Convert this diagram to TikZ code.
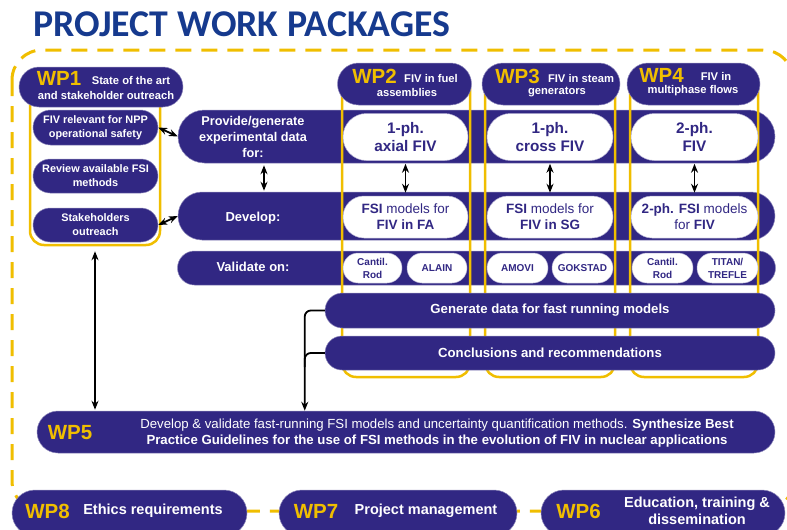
\documentclass[tikz,border=0pt]{standalone}
\usepackage{fontspec}
\setmainfont{Liberation Sans}
\newfontfamily\titlefont{Carlito}
\usetikzlibrary{arrows.meta, calc}

\definecolor{wpnavy}{RGB}{49,39,131}
\definecolor{wptitle}{RGB}{22,58,142}
\definecolor{wpgold}{RGB}{240,190,0}
\newcommand{\sz}[2]{\fontsize{#1}{#2}\selectfont}

\begin{document}
\begin{tikzpicture}[x=1pt, y=-1pt,
    nbox/.style 2 args={rectangle, inner sep=0pt, minimum width=#1pt, minimum height=#2pt,
      rounded corners=0.5*#2pt, fill=wpnavy, draw=wpnavy!55!white, line width=0.5pt,
      text=white, align=center, font=\bfseries\sz{13.2}{16}},
    wbox/.style 2 args={rectangle, inner sep=0pt, minimum width=#1pt, minimum height=#2pt,
      rounded corners=0.5*#2pt, fill=white, draw=wpnavy!35!white, line width=0.5pt,
      text=wpnavy, align=center},
    wpframe/.style 2 args={rectangle, inner sep=0pt, minimum width=#1pt, minimum height=#2pt,
      rounded corners=14pt, draw=wpgold, line width=2.5pt},
    wpnum/.style={inner sep=0pt, text=wpgold, font=\bfseries\sz{20.5}{20}},
    hdr/.style={inner sep=0pt, text=white, font=\bfseries\sz{11.2}{13}},
    lbl/.style={inner sep=0pt, text=white, align=center, font=\bfseries\sz{13}{16}},
    arr/.style={line width=1.8pt, -{Stealth[length=9pt, width=7pt]}},
    dbl/.style={line width=1.8pt, {Stealth[length=9pt, width=7pt]}-{Stealth[length=9pt, width=7pt]}},
  ]
  \useasboundingbox (0,0) rectangle (787,530);

  \node[anchor=base west, inner sep=0pt, text=wptitle, font=\titlefont\bfseries\sz{37.8}{38}]
    (title) at (33,36) {PROJECT WORK PACKAGES};
  \draw[wpgold, line width=3pt, dash pattern=on 16pt off 10pt, rounded corners=30pt]
    (12,50) rectangle (793,511);

  \node[nbox={597}{53}] (provide) at (476.5,136.5) {};
  \node[nbox={597}{48}] (develop) at (476.5,216) {};
  \node[nbox={598}{34}] (validate) at (476.5,268) {};
  \node[lbl, font=\bfseries\sz{12.7}{16}] (providetxt) at (253,137) {Provide/generate\\experimental data\\for:};
  \node[lbl] (developtxt) at (253,218) {Develop:};
  \node[lbl] (validatetxt) at (253,267) {Validate on:};

  \node[wpframe={130}{165}] (wp1box) at (95,162.5) {};
  \node[wpframe={128}{302}] (wp2box) at (406,226) {};
  \node[wpframe={130}{302}] (wp3box) at (550,226) {};
  \node[wpframe={128}{302}] (wp4box) at (694,226) {};

  \node[nbox={450}{35}] (generate) at (550,310.5) {Generate data for fast running models};
  \node[nbox={450}{34}] (conclude) at (550,353) {Conclusions and recommendations};

  \node[nbox={164}{40}] (wp1) at (101,87) {};
  \node[wpnum] (wp1num) at (59,78.5) {WP1};
  \node[hdr] (wp1a) at (131,80.5) {State of the art};
  \node[hdr] (wp1b) at (106,95.5) {and stakeholder outreach};
  \node[nbox={134}{42}] (wp2) at (404.5,84) {};
  \node[wpnum] (wp2num) at (374.5,76) {WP2};
  \node[hdr] (wp2a) at (431,78) {FIV in fuel};
  \node[hdr] (wp2b) at (407,92.5) {assemblies};
  \node[nbox={138}{42}] (wp3) at (551,84) {};
  \node[wpnum] (wp3num) at (517.5,76) {WP3};
  \node[hdr] (wp3a) at (581,78) {FIV in steam};
  \node[hdr] (wp3b) at (557,92.5) {generators};
  \node[nbox={133}{42}] (wp4) at (693.5,84) {};
  \node[wpnum] (wp4num) at (661.5,75) {WP4};
  \node[hdr] (wp4a) at (716,76) {FIV in};
  \node[hdr] (wp4b) at (693,90.5) {multiphase flows};

  \node[nbox={125}{35}, font=\bfseries\sz{10.9}{14}] (relevant) at (95.5,127.5) {FIV relevant for NPP\\operational safety};
  \node[nbox={125}{34}, font=\bfseries\sz{10.9}{14}] (review) at (95.5,176) {Review available FSI\\methods};
  \node[nbox={125}{34}, font=\bfseries\sz{10.9}{14}] (stake) at (95.5,225) {Stakeholders\\outreach};

  \node[wbox={125}{47}, font=\bfseries\sz{15.3}{18}] (axial) at (405.5,137) {1-ph.\\axial FIV};
  \node[wbox={126}{47}, font=\bfseries\sz{15.3}{18}] (cross) at (550,137) {1-ph.\\cross FIV};
  \node[wbox={127}{47}, font=\bfseries\sz{15.3}{18}] (twoph) at (694.5,137) {2-ph.\\FIV};
  \node[wbox={125}{42}, font=\sz{13.5}{16}] (fsifa) at (405.5,217) {\textbf{FSI} models for\\\textbf{FIV in FA}};
  \node[wbox={126}{42}, font=\sz{13.5}{16}] (fsisg) at (550,217) {\textbf{FSI} models for\\\textbf{FIV in SG}};
  \node[wbox={127}{42}, font=\sz{13.5}{16}] (fsitwo) at (694.5,217) {\textbf{2-ph. FSI} models\\for \textbf{FIV}};

  \node[wbox={59}{30}, font=\bfseries\sz{10}{13}] (rodfa) at (372.5,268) {Cantil.\\Rod};
  \node[wbox={60}{30}, font=\bfseries\sz{10}{13}] (alain) at (437,268) {ALAIN};
  \node[wbox={61}{30}, font=\bfseries\sz{10}{13}] (amovi) at (517.5,268) {AMOVI};
  \node[wbox={61}{30}, font=\bfseries\sz{10}{13}] (gokstad) at (582.5,268) {GOKSTAD};
  \node[wbox={61}{30}, font=\bfseries\sz{10}{13}] (rodmp) at (662.5,268) {Cantil.\\Rod};
  \node[wbox={61}{30}, font=\bfseries\sz{10}{13}] (titan) at (727.5,268) {TITAN/\\TREFLE};

  \node[nbox={738}{42}] (wp5) at (406,432) {};
  \node[wpnum] (wp5num) at (70,433) {WP5};
  \node[lbl, font=\sz{13.2}{16}] (wp5txt) at (437,433) {Develop \& validate fast-running FSI models and uncertainty quantification methods. \textbf{Synthesize Best}\\\textbf{Practice Guidelines for the use of FSI methods in the evolution of FIV in nuclear applications}};

  \node[nbox={235}{46}] (wp8) at (129.5,513) {};
  \node[wpnum] (wp8num) at (47.5,511) {WP8};
  \node[lbl, font=\bfseries\sz{14.5}{17}] (wp8txt) at (153,511) {Ethics requirements};
  \node[nbox={238}{46}] (wp7) at (398,513) {};
  \node[wpnum] (wp7num) at (316,511) {WP7};
  \node[lbl, font=\bfseries\sz{14.5}{17}] (wp7txt) at (426,511) {Project management};
  \node[nbox={244}{46}] (wp6) at (663,513) {};
  \node[wpnum] (wp6num) at (578.5,511) {WP6};
  \node[lbl, font=\bfseries\sz{14.5}{17}] (wp6txt) at (697,510.5) {Education, training \&\\dissemination};

  \draw[dbl] (relevant.east) -- (provide.west);
  \draw[dbl] (stake.east) -- (develop.west);
  \draw[dbl, shorten <=2pt, shorten >=1pt] (264,0 |- provide.south) -- (264,0 |- develop.north);
  \draw[dbl, shorten <=3pt, shorten >=3pt] (axial) -- (fsifa);
  \draw[dbl, shorten <=3pt, shorten >=3pt] (cross) -- (fsisg);
  \draw[dbl, shorten <=3pt, shorten >=3pt] (twoph) -- (fsitwo);
  \draw[dbl, shorten <=5pt, shorten >=1pt] (wp1box.south) -- (wp1box.south |- wp5.north);

  \coordinate (split) at ($(generate.west)+(-20,0)$);
  \draw[arr, rounded corners=6pt] (generate.west) -| (split |- wp5.north);
  \draw[line width=1.8pt, rounded corners=6pt] (conclude.west) -| ($(split |- conclude.west)+(0,14)$);
\end{tikzpicture}
\end{document}
